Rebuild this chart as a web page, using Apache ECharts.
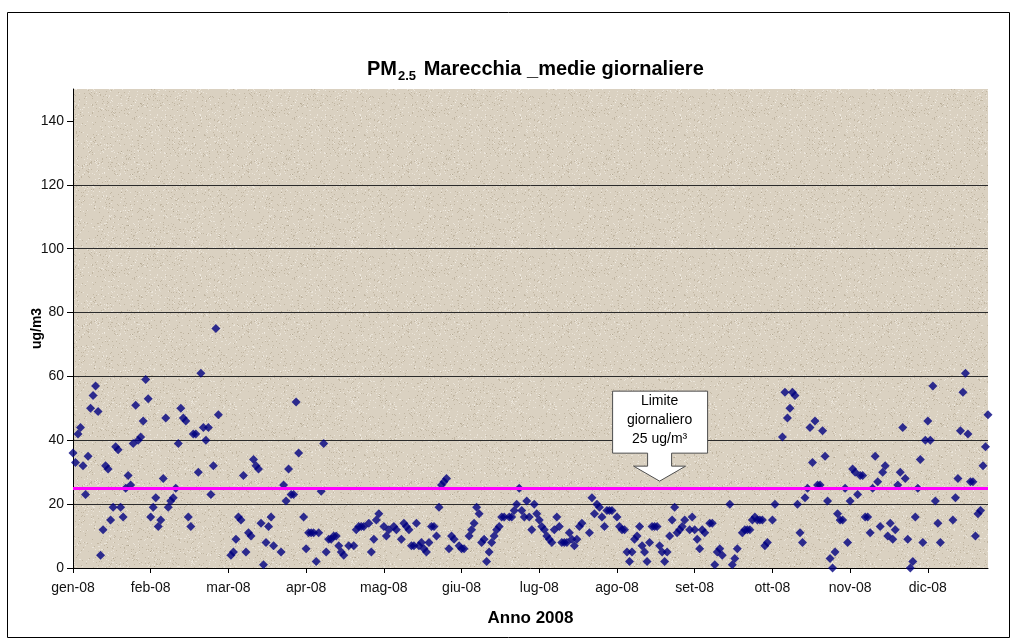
<!DOCTYPE html>
<html>
<head>
<meta charset="utf-8">
<script src="https://cdn.jsdelivr.net/npm/echarts@6/dist/echarts.min.js"></script>
<style>
  html, body { margin: 0; padding: 0; background: #ffffff; }
  #chart { width: 1018px; height: 643px; }
</style>
</head>
<body>
<div id="chart"></div>
<script>
// Daily PM2.5 means (ug/m3), 2008, one array per month; null = no measurement
const gen = [36,33,42,44,32,23,35,50,54,57,49,4,12,32,31,15,19,38,37,19,16,25,29,26,39,51,40,41,46,59,53];
const feb = [16,19,22,13,15,28,47,19,21,22,25,39,50,47,46,16,13,42,42,30,61,44,40,44,23,32,75,48,null];
const mar = [null,null,null,4,5,9,16,15,29,5,11,10,34,32,31,14,1,8,13,16,7,null,null,5,26,21,31,23,23,52,36];
const apr = [null,16,6,11,11,11,2,11,24,39,5,9,9,10,10,7,5,4,null,7,null,7,12,13,13,13,null,14,5,9];
const mag = [15,17,null,13,10,12,null,13,12,null,9,14,13,12,7,7,14,7,8,6,5,8,13,13,10,19,26,27,28,6,10];
const giu = [9,null,7,6,6,null,10,12,14,19,17,8,9,2,5,8,10,12,13,16,16,null,16,16,18,20,25,18,16,21];
const lug = [16,12,20,17,15,13,12,10,9,8,12,16,13,8,8,8,11,9,7,9,13,14,null,null,11,22,17,20,19,16,13];
const ago = [18,18,18,null,16,13,12,12,5,2,5,9,10,13,7,5,2,8,13,13,13,7,5,2,5,10,15,19,11,12,13];
const set = [15,null,12,16,12,9,6,12,11,null,14,14,1,5,6,4,null,null,20,1,3,6,null,11,12,12,12,15,16,15];
const ott = [15,15,7,8,null,15,20,null,null,41,55,47,50,55,54,20,11,8,22,25,44,33,46,26,26,43,35,21,3,0,5];
const nov = [17,15,15,25,8,21,31,30,23,29,29,16,16,11,25,35,27,13,30,32,10,14,9,12,26,30,44,28,9,0];
const dic = [2,16,25,34,8,40,46,40,57,21,14,8,null,null,null,null,15,22,28,43,55,61,42,27,27,10,17,18,32,38,48];

const monthNames = ['gen','feb','mar','apr','mag','giu','lug','ago','set','ott','nov','dic'];
const yTickValues = [0, 20, 40, 60, 80, 100, 120, 140];
const limitValue = 25;
const limitText = ['Limite', 'giornaliero', '25 ug/m\u00B3'];

const months = [gen, feb, mar, apr, mag, giu, lug, ago, set, ott, nov, dic];
const dayCats = [];
const dayValues = [];
months.forEach(function (arr, m) {
  arr.forEach(function (v, d) {
    dayCats.push('2008-' + (m + 1) + '-' + (d + 1));
    dayValues.push(v === null ? '-' : v);
  });
});

// speckled paper texture for the plotting area (deterministic LCG)
function makeTexture() {
  const c = document.createElement('canvas');
  c.width = 160; c.height = 160;
  const g = c.getContext('2d');
  g.fillStyle = '#dad1c1';
  g.fillRect(0, 0, 160, 160);
  let s = 12345;
  function rnd() { s = (s * 1103515245 + 12345) % 2147483648; return s / 2147483648; }
  for (let i = 0; i < 2600; i++) {
    const x = Math.floor(rnd() * 160), y = Math.floor(rnd() * 160);
    const t = rnd();
    g.fillStyle = t < 0.5 ? 'rgba(150,135,110,0.35)' : 'rgba(250,246,238,0.55)';
    g.fillRect(x, y, 1, 1);
  }
  return c;
}

const FONT = 'Liberation Sans, Arial, sans-serif';
const chart = echarts.init(document.getElementById('chart'), null, { renderer: 'canvas' });

chart.setOption({
  animation: false,
  backgroundColor: '#ffffff',
  title: {
    left: 362,
    top: 51,
    text: '{b|PM}{s|2.5}{b| Marecchia _medie giornaliere}',
    textStyle: {
      rich: {
        b: { fontFamily: FONT, fontWeight: 'bold', fontSize: 20, color: '#000', lineHeight: 23, verticalAlign: 'bottom' },
        s: { fontFamily: FONT, fontWeight: 'bold', fontSize: 13, color: '#000', lineHeight: 23, verticalAlign: 'bottom', padding: [0, 2, -4, 1] }
      }
    }
  },
  grid: {
    left: 73, right: 30, top: 89, bottom: 75,
    show: true,
    borderWidth: 0,
    backgroundColor: { image: makeTexture(), repeat: 'repeat' }
  },
  xAxis: {
    type: 'category',
    data: dayCats,
    boundaryGap: false,
    name: 'Anno 2008',
    nameLocation: 'middle',
    nameGap: 42,
    nameMoveOverlap: false,
    nameTextStyle: { fontFamily: FONT, fontWeight: 'bold', fontSize: 17, color: '#000' },
    axisLine: { show: true, lineStyle: { color: '#000', width: 1 } },
    axisTick: { show: true, interval: 30, length: 5, lineStyle: { color: '#000' } },
    axisLabel: {
      interval: 30,
      margin: 13,
      fontFamily: FONT, fontSize: 14, color: '#111',
      formatter: function (v) {
        const m = parseInt(v.split('-')[1], 10) - 1;
        return monthNames[m] + '-08';
      }
    },
    splitLine: { show: false }
  },
  yAxis: {
    type: 'value',
    min: 0, max: 150, interval: 20,
    name: 'ug/m3',
    nameLocation: 'middle',
    nameRotate: 90,
    nameGap: 29,
    nameMoveOverlap: false,
    nameTextStyle: { fontFamily: FONT, fontWeight: 'bold', fontSize: 14, color: '#000' },
    axisLine: { show: true, lineStyle: { color: '#000', width: 1 } },
    axisTick: { show: true, length: 6, lineStyle: { color: '#000' }, customValues: yTickValues },
    axisLabel: {
      fontFamily: FONT, fontSize: 14, color: '#111', margin: 9,
      customValues: yTickValues
    },
    splitLine: { show: true, showMinLine: false, showMaxLine: false, lineStyle: { color: '#2b2b2b', width: 1 } }
  },
  series: [{
    type: 'scatter',
    data: dayValues,
    symbol: 'diamond',
    symbolSize: 9,
    itemStyle: { color: '#000080' },
    silent: true,
    markLine: {
      silent: true,
      symbol: ['none', 'none'],
      label: { show: false },
      lineStyle: { color: '#ff00ff', width: 3, type: 'solid' },
      data: [{ yAxis: limitValue }]
    },
    z: 3
  }]
});

// callout with down arrow pointing at the daily limit line
(function () {
  const tx = chart.convertToPixel({ xAxisIndex: 0 }, 234);
  const ty = chart.convertToPixel({ yAxisIndex: 0 }, 27.2);
  const pts = [
    [-47, -90], [48, -90], [48, -28], [12, -28], [12, -15], [26, -15],
    [0, 0], [-26, -15], [-12, -15], [-12, -28], [-47, -28]
  ].map(function (p) { return [tx + p[0], ty + p[1]]; });
  chart.setOption({
    graphic: [
      {
        type: 'rect', z: 1, silent: true,
        shape: { x: 7.5, y: 12.5, width: 1002, height: 625 },
        style: { fill: 'none', stroke: '#000', lineWidth: 1 }
      },
      {
        type: 'polygon', z: 10, silent: true,
        shape: { points: pts },
        style: { fill: '#ffffff', stroke: '#4d4d4d', lineWidth: 1 }
      },
      {
        type: 'text', z: 11, silent: true,
        x: tx, y: ty - 61,
        style: {
          text: limitText.join('\n'),
          fontFamily: FONT, fontSize: 14, lineHeight: 19,
          fill: '#000', align: 'center', verticalAlign: 'middle'
        }
      }
    ]
  });
})();
</script>
</body>
</html>
